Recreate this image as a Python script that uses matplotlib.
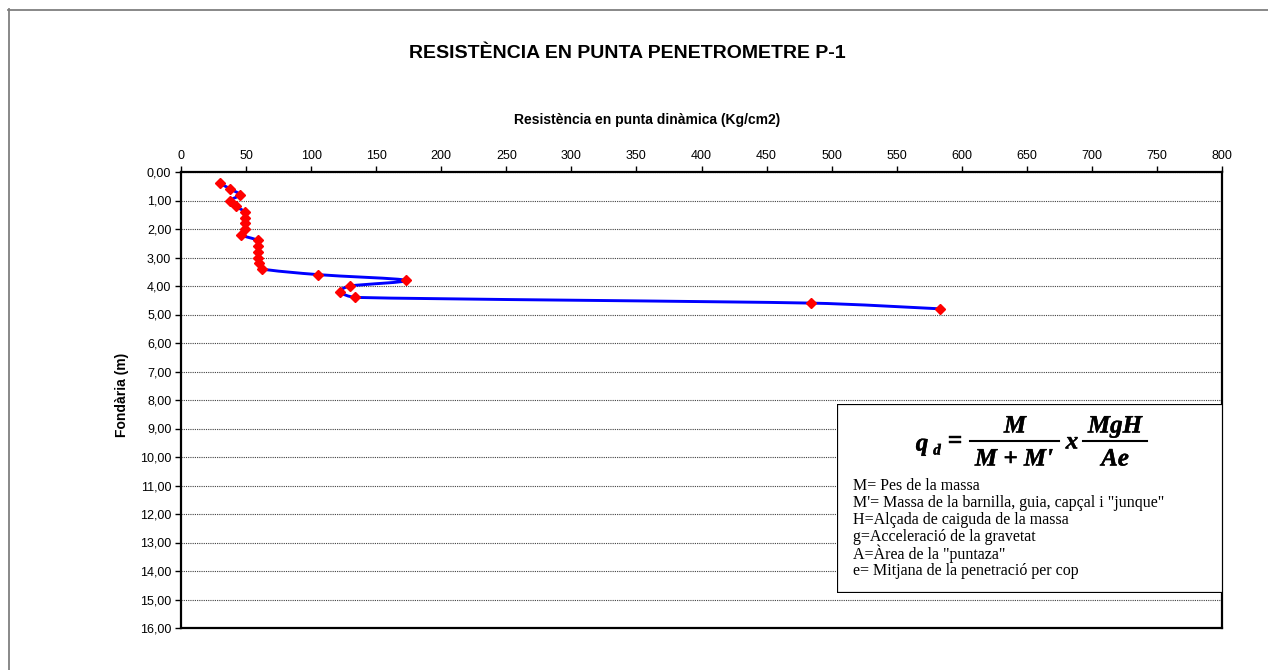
import matplotlib
matplotlib.use("Agg")
import matplotlib.pyplot as plt
import numpy as np
from matplotlib import patheffects
from matplotlib.path import Path
from matplotlib.patches import PathPatch, Rectangle
from matplotlib.lines import Line2D
from matplotlib.ticker import FuncFormatter, MultipleLocator

# Penetrometer P-1: depth (m) and dynamic point resistance (Kg/cm2)
depth = [0.4, 0.6, 0.8, 1.0, 1.2, 1.4, 1.6, 1.8, 2.0, 2.2, 2.4, 2.6,
         2.8, 3.0, 3.2, 3.4, 3.6, 3.8, 4.0, 4.2, 4.4, 4.6, 4.8]
resistance = [30, 38, 45, 38, 42, 49, 49, 49, 49, 46, 59, 59,
              59, 59, 60, 62, 105, 173, 130, 122, 134, 484, 583]

title = "RESISTÈNCIA EN PUNTA PENETROMETRE P-1"
x_title = "Resistència en punta dinàmica (Kg/cm2)"
y_title = "Fondària (m)"
legend_lines = [
    "M= Pes de la massa",
    "M'= Massa de la barnilla, guia, capçal i \"junque\"",
    "H=Alçada de caiguda de la massa",
    "g=Acceleració de la gravetat",
    "A=Àrea de la \"puntaza\"",
    "e= Mitjana de la penetració per cop",
]

SANS = "Liberation Sans"
SERIF = "Liberation Serif"

# slightly heavier look for the formula glyphs
heavy = [patheffects.withStroke(linewidth=0.3, foreground="black")]

W, H = 1268, 670
fig = plt.figure(figsize=(W / 100, H / 100), dpi=100)


def fx(px):
    return px / W


def fy(py):
    return 1 - py / H


# chart area frame (gray, runs off the right/bottom edge)
fig.add_artist(Line2D([fx(8.5), fx(8.5)], [fy(9), fy(H + 5)], color="#7f7f7f", lw=1.3))
fig.add_artist(Line2D([fx(8), fx(W + 5)], [fy(9.5), fy(9.5)], color="#7f7f7f", lw=1.3))

left, right, top, bottom = 181, 1222, 172, 628
ax = fig.add_axes([fx(left), fy(bottom), fx(right - left), (bottom - top) / H])

ax.set_xlim(0, 800)
ax.set_ylim(16, 0)
ax.xaxis.tick_top()
ax.xaxis.set_major_locator(MultipleLocator(50))
ax.yaxis.set_major_locator(MultipleLocator(1))
ax.yaxis.set_major_formatter(FuncFormatter(lambda v, p: f"{v:.2f}".replace(".", ",")))
ax.tick_params(axis="both", direction="out", length=4, width=1, color="black",
               labelsize=9, pad=3)
for lab in ax.get_xticklabels() + ax.get_yticklabels():
    lab.set_fontfamily(SANS)
for s in ax.spines.values():
    s.set_linewidth(1.6)
    s.set_color("black")

# horizontal dotted gridlines
ax.grid(axis="y", linestyle=(0, (1, 1)), color="#404040", lw=0.8)
ax.set_axisbelow(True)

# smoothed connecting line: cubic Bezier built in display space,
# with handle lengths limited to a share of the adjacent segment
pts = ax.transData.transform(np.column_stack([resistance, depth]).astype(float))
n = len(pts)


def handle(prev_p, next_p, seg_len):
    d = (next_p - prev_p) / 6.0
    L = np.hypot(*d)
    lim = seg_len / 3.0
    if L > lim and L > 0:
        d = d * (lim / L)
    return d


verts = [pts[0]]
codes = [Path.MOVETO]
for i in range(n - 1):
    p0 = pts[i - 1] if i > 0 else pts[i]
    p1 = pts[i]
    p2 = pts[i + 1]
    p3 = pts[i + 2] if i + 2 < n else pts[i + 1]
    seg = np.hypot(*(p2 - p1))
    c1 = p1 + handle(p0, p2, seg)
    c2 = p2 - handle(p1, p3, seg)
    verts += [c1, c2, p2]
    codes += [Path.CURVE4] * 3
verts = ax.transData.inverted().transform(np.array(verts))
ax.add_patch(PathPatch(Path(verts, codes), facecolor="none", edgecolor="#0000ff",
                       lw=2.1, zorder=3))
ax.plot(resistance, depth, linestyle="none", marker="D", ms=5.5,
        color="#ff0000", mec="#ff0000", zorder=4)

# titles
fig.text(fx(627), fy(53), title, ha="center", va="center", fontsize=14,
         fontweight="bold", family=SANS)
fig.text(fx(647), fy(120), x_title, ha="center", va="center", fontsize=10,
         fontweight="bold", family=SANS)
fig.text(fx(122), fy(395), y_title, ha="center", va="center", rotation=90,
         fontsize=10, fontweight="bold", family=SANS)

# formula box
bx0, bx1, by0, by1 = 837, 1223, 404, 593
bax = fig.add_axes([fx(bx0), fy(by1), fx(bx1 - bx0), (by1 - by0) / H])
bax.set_xlim(0, bx1 - bx0)
bax.set_ylim(by1 - by0, 0)
bax.axis("off")
bax.add_patch(Rectangle((0, 0), bx1 - bx0, by1 - by0, facecolor="white",
                        edgecolor="black", lw=1.6))

fkw = dict(family=SERIF, fontweight="bold", fontstyle="italic", fontsize=18,
           ha="center", va="center", path_effects=heavy)
bax.text(85, 40, "q", **fkw)
bax.text(100, 47, "d", family=SERIF, fontweight="bold", fontstyle="italic",
         fontsize=11, ha="center", va="center", path_effects=heavy)
bax.text(118, 37, "=", family=SERIF, fontweight="bold", fontsize=18,
         ha="center", va="center", path_effects=heavy)
bax.plot([133, 222], [37, 37], color="black", lw=1.5)
bax.text(178, 22, "M", **fkw)
bax.text(177, 55, "M + M'", **fkw)
bax.text(235, 38, "x", **fkw)
bax.plot([246, 310], [37, 37], color="black", lw=1.5)
bax.text(278, 22, "MgH", **fkw)
bax.text(278, 55, "Ae", **fkw)

for k, line in enumerate(legend_lines):
    bax.text(16, 82 + 17 * k, line, family=SERIF, fontsize=11.5,
             ha="left", va="center")

fig.savefig("out.png", dpi=100)
